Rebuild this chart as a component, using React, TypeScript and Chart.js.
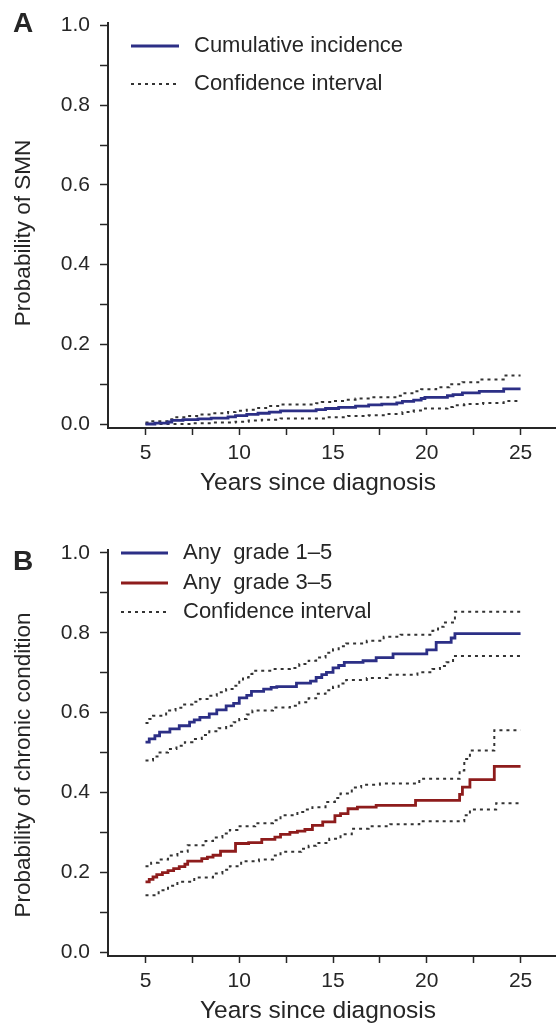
import React, { useEffect, useRef } from 'react';
import { Chart, registerables } from 'chart.js';

Chart.register(...registerables);

const FONT = '"Liberation Sans", Arial, Helvetica, sans-serif';
const INK = '#262626';
const NAVY = '#2c2f86';
const DARKRED = '#8e1c1c';
const CI_GREY = '#333333';

// axis ticks
const xMajorTicks = [5, 10, 15, 20, 25];
const xMinorTicks = [7.5, 12.5, 17.5, 22.5];
const yMajorTicks = [0, 0.2, 0.4, 0.6, 0.8, 1.0];
const yMinorTicks = [0.1, 0.3, 0.5, 0.7, 0.9];

// Panel A: cumulative incidence of SMN
const smnYears = [5, 5.5, 6.2, 6.4, 7.0, 7.8, 8.5, 9.4, 9.8, 10.4, 11.0, 11.6, 12.2, 14.1, 14.6, 15.3, 16.2, 16.9, 17.6, 18.4, 18.7, 19.3, 19.7, 19.9, 21.1, 21.4, 21.9, 22.8, 24.1, 25];
const smnIncidence = [0, 0.002, 0.005, 0.009, 0.011, 0.013, 0.015, 0.018, 0.021, 0.024, 0.027, 0.03, 0.033, 0.036, 0.039, 0.042, 0.045, 0.048, 0.05, 0.053, 0.057, 0.06, 0.064, 0.067, 0.071, 0.074, 0.078, 0.082, 0.088, 0.088];
const smnUpperYears = [5, 5.3, 6.3, 6.5, 7.2, 7.9, 8.6, 9.4, 9.8, 10.4, 10.9, 11.5, 12.2, 14.1, 14.4, 15.0, 15.6, 16.2, 16.9, 18.4, 18.7, 19.3, 19.7, 20.5, 21.2, 21.9, 22.8, 24.1, 25];
const smnUpper = [0.004, 0.007, 0.012, 0.017, 0.02, 0.024, 0.027, 0.03, 0.033, 0.036, 0.04, 0.045, 0.049, 0.052, 0.055, 0.058, 0.061, 0.064, 0.067, 0.071, 0.077, 0.082, 0.087, 0.092, 0.1, 0.105, 0.112, 0.122, 0.122];
const smnLowerYears = [5, 7.5, 8.6, 9.8, 10.5, 11.2, 12.2, 14.6, 15.8, 16.9, 17.8, 18.7, 19.3, 19.8, 21.1, 21.4, 22.0, 23.0, 24.1, 25];
const smnLower = [0, 0.002, 0.004, 0.006, 0.009, 0.011, 0.014, 0.017, 0.02, 0.022, 0.025, 0.03, 0.034, 0.039, 0.043, 0.047, 0.05, 0.053, 0.058, 0.058];

// Panel B: any grade 1-5
const g15Years = [5, 5.2, 5.5, 5.75, 6.3, 6.8, 7.35, 7.6, 7.9, 8.4, 8.8, 9.3, 9.7, 10.0, 10.4, 10.65, 11.3, 11.7, 12.0, 13.05, 13.8, 14.1, 14.4, 14.65, 15.0, 15.3, 15.6, 16.6, 17.3, 18.2, 20.0, 20.5, 21.3, 21.5, 25];
const g15Values = [0.526, 0.534, 0.542, 0.551, 0.559, 0.567, 0.576, 0.582, 0.588, 0.597, 0.607, 0.617, 0.623, 0.637, 0.643, 0.653, 0.659, 0.663, 0.665, 0.674, 0.679, 0.688, 0.695, 0.701, 0.712, 0.718, 0.726, 0.73, 0.738, 0.747, 0.757, 0.776, 0.787, 0.798, 0.798];
const g15UpperYears = [5, 5.2, 5.4, 6.1, 6.6, 7.0, 7.5, 7.9, 8.4, 8.8, 9.3, 9.7, 10.0, 10.2, 10.5, 10.7, 11.8, 12.7, 13.2, 13.7, 14.1, 14.6, 15.0, 15.3, 15.7, 16.8, 17.7, 18.6, 20.3, 20.6, 20.9, 21.5, 25];
const g15Upper = [0.574, 0.584, 0.592, 0.605, 0.612, 0.62, 0.627, 0.634, 0.642, 0.651, 0.659, 0.667, 0.68, 0.688, 0.697, 0.705, 0.709, 0.712, 0.722, 0.73, 0.738, 0.75, 0.759, 0.766, 0.773, 0.78, 0.79, 0.795, 0.805, 0.815, 0.826, 0.853, 0.853];
const g15LowerYears = [5, 5.4, 5.75, 6.2, 6.65, 7.1, 7.5, 8.0, 8.4, 8.9, 9.3, 9.7, 10.0, 10.4, 10.7, 11.8, 12.7, 13.2, 13.7, 14.1, 14.6, 15.0, 15.3, 15.7, 16.8, 17.9, 19.5, 20.3, 20.7, 21.05, 21.4, 25];
const g15Lower = [0.48, 0.49, 0.5, 0.509, 0.517, 0.526, 0.534, 0.544, 0.553, 0.561, 0.567, 0.576, 0.584, 0.595, 0.605, 0.613, 0.617, 0.626, 0.636, 0.647, 0.656, 0.665, 0.673, 0.682, 0.687, 0.695, 0.701, 0.709, 0.717, 0.726, 0.742, 0.742];

// Panel B: any grade 3-5
const g35Years = [5, 5.2, 5.4, 5.6, 5.9, 6.2, 6.5, 6.8, 7.1, 7.25, 8.0, 8.3, 8.6, 9.0, 9.8, 10.5, 11.2, 11.9, 12.2, 12.7, 13.1, 13.5, 13.9, 14.45, 15.1, 15.4, 15.8, 16.3, 17.3, 19.4, 21.75, 21.9, 22.3, 23.6, 25];
const g35Values = [0.176, 0.182, 0.188, 0.194, 0.199, 0.204, 0.209, 0.214, 0.22, 0.228, 0.234, 0.238, 0.2425, 0.2525, 0.272, 0.274, 0.2825, 0.288, 0.295, 0.3, 0.303, 0.307, 0.3175, 0.326, 0.342, 0.347, 0.359, 0.363, 0.3675, 0.38, 0.395, 0.413, 0.432, 0.465, 0.465];
const g35UpperYears = [5, 5.3, 5.7, 6.2, 6.7, 7.25, 8.2, 8.6, 9.1, 9.5, 9.9, 10.85, 11.8, 12.2, 13.1, 13.5, 13.9, 14.6, 15.1, 15.4, 16.0, 16.5, 17.5, 19.6, 21.75, 22.0, 22.3, 23.6, 25];
const g35Upper = [0.215, 0.224, 0.232, 0.242, 0.251, 0.2675, 0.278, 0.287, 0.297, 0.306, 0.315, 0.323, 0.33, 0.3425, 0.351, 0.357, 0.363, 0.376, 0.386, 0.397, 0.412, 0.419, 0.422, 0.434, 0.455, 0.484, 0.505, 0.556, 0.556];
const g35LowerYears = [5, 5.7, 6.2, 6.7, 7.6, 8.6, 9.1, 9.5, 10.1, 11.05, 11.8, 12.2, 13.3, 13.7, 14.1, 14.8, 15.4, 16.0, 16.9, 18.05, 19.6, 22.0, 22.3, 23.7, 25];
const g35Lower = [0.1425, 0.155, 0.166, 0.176, 0.187, 0.197, 0.206, 0.215, 0.2275, 0.232, 0.242, 0.251, 0.259, 0.266, 0.273, 0.284, 0.295, 0.309, 0.315, 0.32, 0.3275, 0.3425, 0.357, 0.373, 0.373];

const pts = (xs: number[], ys: number[]) => xs.map((x, i) => ({ x, y: ys[i] }));
const isIn = (arr: number[], v: number) => arr.some((a) => Math.abs(a - v) < 1e-9);

const solid = (label: string, xs: number[], ys: number[], color: string) => ({
  label,
  data: pts(xs, ys),
  borderColor: color,
  backgroundColor: color,
  borderWidth: 2.8,
  pointRadius: 0,
  stepped: 'before' as const,
  fill: false,
});

const dotted = (label: string, xs: number[], ys: number[]) => ({
  label,
  data: pts(xs, ys),
  borderColor: CI_GREY,
  backgroundColor: CI_GREY,
  borderWidth: 2,
  borderDash: [3, 4],
  pointRadius: 0,
  stepped: 'before' as const,
  fill: false,
});

type LegendItem = { text: string; color: string; dash: number[]; width: number; y: number };
type Decor = {
  letter: string;
  letterY: number;
  lineX1: number;
  lineX2: number;
  textX: number;
  items: LegendItem[];
  xTitle: string;
  xTitleX: number;
  xTitleBaseline: number;
  yTitle: string;
  yTitleBaseline: number;
  yTitleCenter: number;
};

const decorPlugin = {
  id: 'panelDecor',
  afterDraw(chart: any, _args: any, opts: Decor) {
    const ctx = chart.ctx as CanvasRenderingContext2D;
    ctx.save();
    ctx.fillStyle = INK;
    // panel letter
    ctx.font = `bold 28px ${FONT}`;
    ctx.textBaseline = 'alphabetic';
    ctx.textAlign = 'left';
    ctx.fillText(opts.letter, 13, opts.letterY);
    // axis titles
    ctx.textAlign = 'center';
    ctx.font = `24.5px ${FONT}`;
    ctx.fillText(opts.xTitle, opts.xTitleX, opts.xTitleBaseline);
    ctx.save();
    ctx.translate(opts.yTitleBaseline, opts.yTitleCenter);
    ctx.rotate(-Math.PI / 2);
    ctx.font = `22.5px ${FONT}`;
    ctx.fillText(opts.yTitle, 0, 0);
    ctx.restore();
    // legend
    ctx.textAlign = 'left';
    ctx.font = `22px ${FONT}`;
    ctx.textBaseline = 'middle';
    for (const it of opts.items) {
      ctx.beginPath();
      ctx.setLineDash(it.dash);
      ctx.strokeStyle = it.color;
      ctx.lineWidth = it.width;
      ctx.moveTo(opts.lineX1, it.y);
      ctx.lineTo(opts.lineX2, it.y);
      ctx.stroke();
      ctx.setLineDash([]);
      ctx.fillStyle = INK;
      ctx.fillText(it.text, opts.textX, it.y);
    }
    ctx.restore();
  },
};

function makeScales(xHeight: number) {
  return {
    x: {
      type: 'linear' as const,
      min: 3,
      max: 26.89,
      afterBuildTicks: (s: any) => {
        s.ticks = [...xMajorTicks, ...xMinorTicks].sort((a, b) => a - b).map((v) => ({ value: v }));
      },
      afterFit: (s: any) => {
        s.height = xHeight;
      },
      border: { display: true, color: INK, width: 2 },
      grid: { display: true, drawOnChartArea: false, drawTicks: true, tickLength: 7, tickColor: INK, tickWidth: 1.5 },
      ticks: {
        autoSkip: false,
        maxRotation: 0,
        padding: 6,
        color: INK,
        font: { family: FONT, size: 21 },
        callback: (v: any) => (isIn(xMajorTicks, Number(v)) ? String(v) : ''),
      },
      title: { display: false },
    },
    y: {
      type: 'linear' as const,
      min: -0.01,
      max: 1.0075,
      afterBuildTicks: (s: any) => {
        s.ticks = [...yMajorTicks, ...yMinorTicks].sort((a, b) => a - b).map((v) => ({ value: v }));
      },
      afterFit: (s: any) => {
        s.width = 108;
      },
      border: { display: true, color: INK, width: 2 },
      grid: { display: true, drawOnChartArea: false, drawTicks: true, tickLength: 8, tickColor: INK, tickWidth: 1.5 },
      ticks: {
        autoSkip: false,
        padding: 10,
        color: INK,
        font: { family: FONT, size: 21 },
        callback: (v: any) => (isIn(yMajorTicks, Number(v)) ? Number(v).toFixed(1) : ''),
      },
      title: { display: false },
    },
  };
}

function Panel(props: { top: number; height: number; config: any }) {
  const ref = useRef<HTMLCanvasElement | null>(null);
  useEffect(() => {
    if (!ref.current) return;
    const chart = new Chart(ref.current, props.config);
    return () => chart.destroy();
  }, []);
  return (
    <div style={{ position: 'absolute', left: 0, top: props.top, width: 556, height: props.height }}>
      <canvas ref={ref} width={556} height={props.height} style={{ width: 556, height: props.height, display: 'block' }} />
    </div>
  );
}

const configA = {
  type: 'line',
  data: {
    datasets: [
      solid('Cumulative incidence', smnYears, smnIncidence, NAVY),
      dotted('Upper confidence limit', smnUpperYears, smnUpper),
      dotted('Lower confidence limit', smnLowerYears, smnLower),
    ],
  },
  options: {
    animation: false,
    responsive: false,
    maintainAspectRatio: false,
    layout: { padding: { top: 20, right: 0, left: 0, bottom: 0 } },
    scales: makeScales(72),
    plugins: {
      legend: { display: false },
      tooltip: { enabled: false },
      panelDecor: {
        letter: 'A',
        letterY: 32,
        lineX1: 131,
        lineX2: 179,
        textX: 194,
        items: [
          { text: 'Cumulative incidence', color: NAVY, dash: [], width: 3, y: 46 },
          { text: 'Confidence interval', color: CI_GREY, dash: [3, 4], width: 2, y: 84 },
        ],
        xTitle: 'Years since diagnosis',
        xTitleX: 318,
        xTitleBaseline: 490,
        yTitle: 'Probability of SMN',
        yTitleBaseline: 30,
        yTitleCenter: 233,
      },
    },
  },
  plugins: [decorPlugin],
};

const configB = {
  type: 'line',
  data: {
    datasets: [
      solid('Any grade 1–5', g15Years, g15Values, NAVY),
      solid('Any grade 3–5', g35Years, g35Values, DARKRED),
      dotted('Grade 1–5 upper limit', g15UpperYears, g15Upper),
      dotted('Grade 1–5 lower limit', g15LowerYears, g15Lower),
      dotted('Grade 3–5 upper limit', g35UpperYears, g35Upper),
      dotted('Grade 3–5 lower limit', g35LowerYears, g35Lower),
    ],
  },
  options: {
    animation: false,
    responsive: false,
    maintainAspectRatio: false,
    layout: { padding: { top: 50, right: 0, left: 0, bottom: 0 } },
    scales: makeScales(68),
    plugins: {
      legend: { display: false },
      tooltip: { enabled: false },
      panelDecor: {
        letter: 'B',
        letterY: 70,
        lineX1: 121,
        lineX2: 168,
        textX: 183,
        items: [
          { text: 'Any  grade 1–5', color: NAVY, dash: [], width: 3, y: 53 },
          { text: 'Any  grade 3–5', color: DARKRED, dash: [], width: 3, y: 83 },
          { text: 'Confidence interval', color: CI_GREY, dash: [3, 4], width: 2, y: 112 },
        ],
        xTitle: 'Years since diagnosis',
        xTitleX: 318,
        xTitleBaseline: 518,
        yTitle: 'Probability of chronic condition',
        yTitleBaseline: 30,
        yTitleCenter: 265,
      },
    },
  },
  plugins: [decorPlugin],
};

export default function App() {
  return (
    <div style={{ position: 'absolute', left: 0, top: 0, width: 556, height: 1024, background: '#fff' }}>
      <Panel top={0} height={500} config={configA} />
      <Panel top={500} height={524} config={configB} />
    </div>
  );
}
